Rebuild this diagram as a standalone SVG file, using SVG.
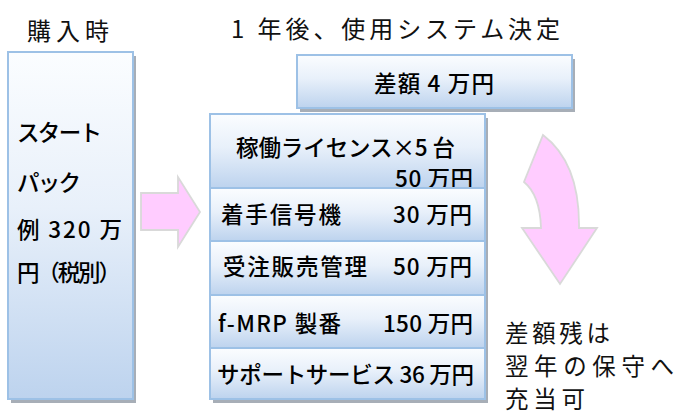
<svg xmlns="http://www.w3.org/2000/svg" width="676" height="415" viewBox="0 0 676 415">
<defs>
<linearGradient id="boxGrad" x1="0" y1="0" x2="0" y2="1">
<stop offset="0" stop-color="#fbfdff"/>
<stop offset="0.45" stop-color="#e8f0fa"/>
<stop offset="1" stop-color="#bdd3ee"/>
</linearGradient>
<style>
.box{fill:url(#boxGrad);stroke:#9dc1e6;stroke-width:2}
.shadow{fill:#a7aeb7}
.arrow{fill:#ffccff;stroke:#d9d9d9;stroke-width:1.8;stroke-linejoin:miter}
.t{font-family:"Noto Sans CJK JP","Noto Sans",sans-serif;fill:#000;font-size:22.5px;font-weight:500}
.title{font-family:"Noto Sans CJK JP","Noto Sans",sans-serif;fill:#111;font-size:24px}
.note{font-family:"Noto Sans CJK JP","Noto Sans",sans-serif;fill:#111;font-size:23.5px}
</style>
</defs>
<rect width="676" height="415" fill="#fff"/>
<g id="title-left"><text class="title" x="27" y="40" textLength="82" lengthAdjust="spacing">購入時</text></g>
<g id="title-right"><text class="title" x="231" y="38" textLength="329" lengthAdjust="spacing">1 年後、使用システム決定</text></g>
<g id="start-pack">
<rect class="shadow" x="11" y="56" width="125" height="347"/>
<rect class="box" x="8" y="52" width="125" height="347"/>
<text class="t" x="17" y="141" textLength="85" lengthAdjust="spacing">スタート</text>
<text class="t" x="17" y="191" textLength="64" lengthAdjust="spacing">パック</text>
<text class="t" x="17" y="238" textLength="105" lengthAdjust="spacing">例 320 万</text>
<text class="t" x="17" y="281" textLength="104" lengthAdjust="spacing">円（税別）</text>
</g>
<g id="diff">
<rect class="shadow" x="300" y="59" width="275" height="53"/>
<rect class="box" x="297" y="55" width="275" height="53"/>
<text class="t" x="374" y="92" textLength="120" lengthAdjust="spacing">差額 4 万円</text>
</g>
<g id="stack-shadow"><rect class="shadow" x="213" y="118" width="275" height="285"/></g>
<g id="license">
<rect class="box" x="210" y="114" width="275" height="74"/>
<text class="t" x="236" y="156" textLength="219" lengthAdjust="spacing">稼働ライセンス×5 台</text>
<text class="t" x="395" y="187" textLength="78" lengthAdjust="spacing">50 万円</text>
</g>
<g id="signal">
<rect class="box" x="210" y="188" width="275" height="53"/>
<text class="t" x="221" y="223" textLength="120" lengthAdjust="spacing">着手信号機</text>
<text class="t" x="393" y="223" textLength="79" lengthAdjust="spacing">30 万円</text>
</g>
<g id="sales">
<rect class="box" x="210" y="241" width="275" height="54"/>
<text class="t" x="223" y="275" textLength="144" lengthAdjust="spacing">受注販売管理</text>
<text class="t" x="393" y="275" textLength="79" lengthAdjust="spacing">50 万円</text>
</g>
<g id="fmrp">
<rect class="box" x="210" y="295" width="275" height="53"/>
<text class="t" x="218" y="332" textLength="123" lengthAdjust="spacing">f-MRP 製番</text>
<text class="t" x="383" y="332" textLength="90" lengthAdjust="spacing">150 万円</text>
</g>
<g id="support">
<rect class="box" x="210" y="348" width="275" height="51"/>
<text class="t" x="217" y="383" textLength="257" lengthAdjust="spacing">サポートサービス 36 万円</text>
</g>
<g id="note">
<text class="note" x="505" y="342" textLength="105" lengthAdjust="spacing">差額残は</text>
<text class="note" x="505" y="375" textLength="169" lengthAdjust="spacing">翌年の保守へ</text>
<text class="note" x="505" y="408" textLength="80" lengthAdjust="spacing">充当可</text>
</g>
<g id="connectors">
<polygon class="arrow" points="141,193 178,193 178,177 200,212 178,247 178,230 141,230"/>
<path class="arrow" d="M543,135 Q580,163 579,228 L597,228 L560,284 L522,228 L541,228 Q540,195 524,182 Z"/>
</g>
</svg>
